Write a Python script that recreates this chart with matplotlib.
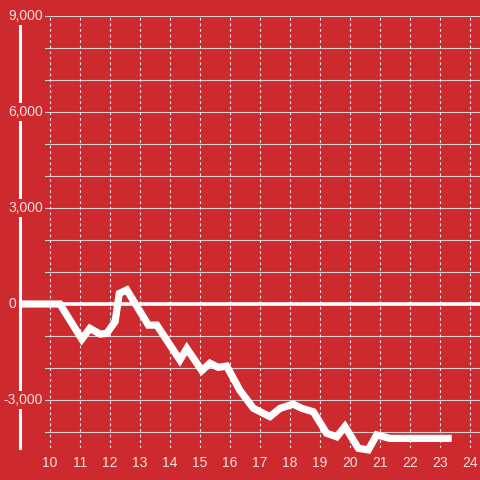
import numpy as np
import matplotlib.pyplot as plt
from matplotlib.transforms import blended_transform_factory

plt.rcParams['font.family'] = ['Liberation Sans', 'DejaVu Sans']

bg = '#cd2a2f'
txt = '#f7dede'

# data
hours = [9.0, 10.33, 11.06, 11.33, 11.67, 11.89, 12.17, 12.31, 12.56, 13.28, 13.56,
         14.33, 14.56, 15.06, 15.33, 15.61, 15.89, 16.33, 16.78, 17.33, 17.67,
         18.11, 18.39, 18.78, 19.22, 19.56, 19.83, 20.28, 20.61, 20.89, 21.33, 23.39]
values = [0, 0, -1100, -760, -940, -920, -550, 330, 440, -660, -660,
          -1750, -1390, -2080, -1850, -1980, -1940, -2700, -3260, -3520, -3260,
          -3130, -3260, -3370, -4040, -4150, -3830, -4510, -4560, -4090, -4200, -4200]

x_ticks = list(range(10, 25))
y_grid = list(range(-4000, 10000, 1000))
y_labels = [9000, 6000, 3000, 0, -3000]

fig = plt.figure(figsize=(4.8, 4.8), dpi=100, facecolor=bg)
ax = fig.add_axes([20/480, 1 - 448/480, 460/480, 432/480], facecolor=bg)
ax.set_xlim(9, 24.333)
ax.set_ylim(-4500, 9000)

for s in ['top', 'right', 'bottom']:
    ax.spines[s].set_visible(False)
ax.spines['left'].set_color('white')
ax.spines['left'].set_linewidth(2.2)
ax.spines['left'].set_bounds(-4500, 8750)

# grid
for v in y_grid:
    ax.axhline(v, xmin=25/460, xmax=1, color='#d6cfcf', lw=0.8, zorder=1)
for t in x_ticks:
    ax.axvline(t, color='#f2e6e6', lw=0.8, ls=(0, (2.5, 2.5)), zorder=1)

ax.axhline(0, color='white', lw=2.6, zorder=2)
ax.plot(hours, values, color='white', lw=5.2, solid_joinstyle='miter',
        solid_capstyle='butt', zorder=3, clip_on=False)

ax.set_xticks(x_ticks)
ax.set_xticklabels([str(t) for t in x_ticks])
ax.tick_params(axis='x', length=0, pad=6, labelsize=10, labelcolor=txt)
ax.set_yticks([])

trans = blended_transform_factory(ax.transAxes, ax.transData)
for v in y_labels:
    lab = '{:,}'.format(v)
    xr = 23/460 if v != 0 else -4/460
    ax.text(xr, v, lab, transform=trans, ha='right', va='center', fontsize=10,
            color=txt, zorder=4, clip_on=False,
            bbox=dict(facecolor=bg, edgecolor='none', pad=1.5))

fig.savefig('out.png', dpi=100, facecolor=bg)
